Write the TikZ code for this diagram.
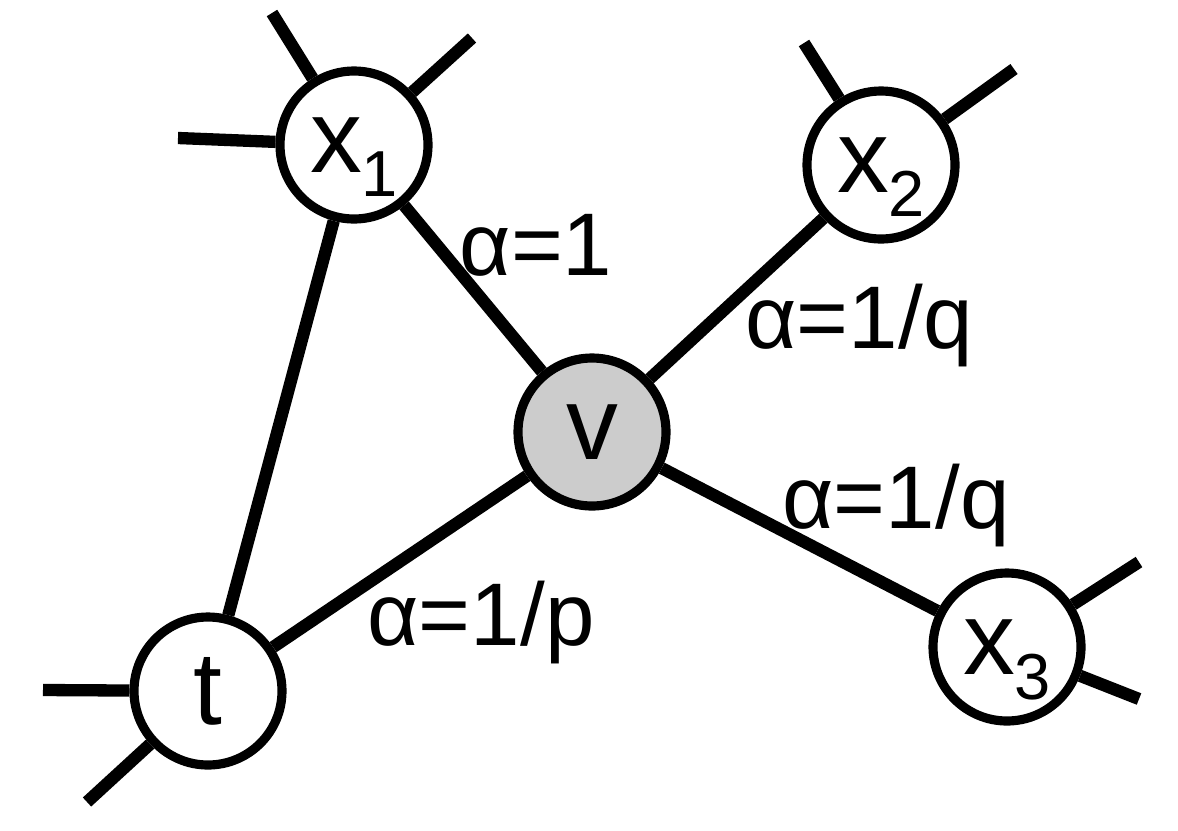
\documentclass[tikz,border=0pt]{standalone}
\usepackage{fontspec}
\setmainfont{Liberation Sans}
\newcommand{\lowsub}[1]{\smash{\raisebox{-7pt}{\fontsize{18.5pt}{18.5pt}\selectfont #1}}}

\begin{document}
\begin{tikzpicture}
% Define styles
\tikzstyle{vertex} = [circle, minimum size=1.48cm, inner sep=0pt, draw=black, line width=2.6pt, fill=white, font=\fontsize{29.5pt}{30pt}\selectfont]
\tikzstyle{current} = [vertex, fill=black!20]
\tikzstyle{link} = [line width=3.5pt]
\tikzstyle{weight} = [anchor=base, inner sep=0pt, font=\fontsize{25.3pt}{30pt}\selectfont]

\useasboundingbox (0,0) rectangle (11.78,8.30);

% Nodes
\node (v) [current] at (5.92,3.98) {v};
\node (x1) [vertex] at (3.54,6.85) {x\lowsub{1}};
\node (x2) [vertex] at (8.81,6.65) {x\lowsub{2}};
\node (x3) [vertex] at (10.07,1.83) {x\lowsub{3}};
\node (t) [vertex] at (2.08,1.39) {t};

% Loose ends
\coordinate (x1w) at (1.78,6.92);
\coordinate (x1nw) at (2.72,8.17);
\coordinate (x1ne) at (4.72,7.92);
\coordinate (x2nw) at (8.04,7.87);
\coordinate (x2ne) at (10.14,7.61);
\coordinate (x3ne) at (11.39,2.68);
\coordinate (x3se) at (11.39,1.31);
\coordinate (tw) at (0.43,1.40);
\coordinate (tsw) at (0.87,0.28);

% Edges
\draw[link] (v) -- (x1);
\draw[link] (v) -- (x2);
\draw[link] (v) -- (x3);
\draw[link] (v) -- (t);
\draw[link] (x1) -- (t);
\draw[link] (x1) -- (x1w);
\draw[link] (x1) -- (x1nw);
\draw[link] (x1) -- (x1ne);
\draw[link] (x2) -- (x2nw);
\draw[link] (x2) -- (x2ne);
\draw[link] (x3) -- (x3ne);
\draw[link] (x3) -- (x3se);
\draw[link] (t) -- (tw);
\draw[link] (t) -- (tsw);

% Weights
\node (w1) [weight] at (5.36,5.55) {α=1};
\node (wq1) [weight] at (8.59,4.82) {α=1/q};
\node (wq2) [weight] at (8.96,3.02) {α=1/q};
\node (wp) [weight] at (4.81,1.85) {α=1/p};
\end{tikzpicture}
\end{document}
